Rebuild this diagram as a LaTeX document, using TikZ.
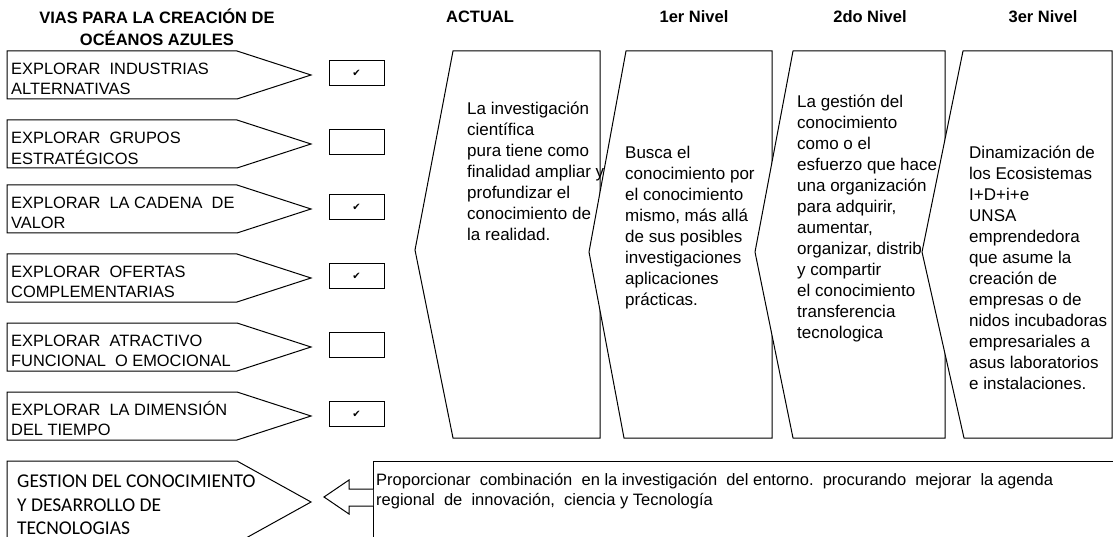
\documentclass[tikz,border=0pt]{standalone}
\usepackage{fontspec}
\setmainfont{Liberation Sans}
\newfontfamily\calibrifont{Carlito}
\newfontfamily\dejavufont{DejaVu Sans}

\tikzstyle{outline} = [draw, fill=white, line width=1pt, line join=miter]
\tikzstyle{header} = [anchor=base, inner sep=0pt, font=\bfseries\fontsize{16.5}{20}\selectfont]
\tikzstyle{via} = [anchor=north west, inner sep=0pt, align=left, font=\fontsize{16.4}{20}\selectfont]
\tikzstyle{nivel} = [anchor=north west, inner sep=0pt, align=left, font=\fontsize{17}{21}\selectfont]
\tikzstyle{nota} = [anchor=north west, inner sep=0pt, align=left, font=\fontsize{16.5}{20}\selectfont]
\tikzstyle{gestion} = [anchor=north west, inner sep=0pt, align=left, font=\calibrifont\fontsize{19.5}{23.5}\selectfont]
\tikzstyle{chk} = [draw, line width=1pt, minimum width=55pt, minimum height=25pt, inner sep=0pt, font=\dejavufont\fontsize{10}{10}\selectfont]

\begin{document}
\begin{tikzpicture}[x=1pt, y=-1pt]
	\useasboundingbox (0,0) rectangle (1113,537);
	\clip (0,0) rectangle (1113,537);

	% titulos
	\node[header, anchor=north, align=center] (tvias) at (157,9) {\strut VIAS PARA LA CREACIÓN DE\\OCÉANOS AZULES};
	\node[header] (tactual) at (480,23) {ACTUAL};
	\node[header] (tnivel1) at (694,23) {1er Nivel};
	\node[header] (tnivel2) at (870,23) {2do Nivel};
	\node[header] (tnivel3) at (1043,23) {3er Nivel};

	% vias
	\draw[outline] (7,51) -- (237,51) -- (311,75) -- (237,99) -- (7,99) -- cycle;
	\node[via] (v1) at (11,60) {\strut EXPLORAR\ \ INDUSTRIAS\\ALTERNATIVAS};
	\node[chk] (c1) at (356.5,73) {✔};

	\draw[outline] (7,120) -- (237,120) -- (311,144) -- (237,168) -- (7,168) -- cycle;
	\node[via] (v2) at (11,129) {\strut EXPLORAR\ \ GRUPOS\\ESTRATÉGICOS};
	\node[chk] (c2) at (356.5,142) {};

	\draw[outline] (7,185) -- (237,185) -- (311,209) -- (237,233) -- (7,233) -- cycle;
	\node[via] (v3) at (11,194) {\strut EXPLORAR\ \ LA CADENA\ \ DE\\VALOR};
	\node[chk] (c3) at (356.5,207) {✔};

	\draw[outline] (7,254) -- (237,254) -- (311,278) -- (237,302) -- (7,302) -- cycle;
	\node[via] (v4) at (11,263) {\strut EXPLORAR\ \ OFERTAS\\COMPLEMENTARIAS};
	\node[chk] (c4) at (356.5,276) {✔};

	\draw[outline] (7,323) -- (237,323) -- (311,347) -- (237,371) -- (7,371) -- cycle;
	\node[via] (v5) at (11,332) {\strut EXPLORAR\ \ ATRACTIVO\\FUNCIONAL\ \ O EMOCIONAL};
	\node[chk] (c5) at (356.5,345) {};

	\draw[outline] (7,392) -- (237,392) -- (311,416) -- (237,440) -- (7,440) -- cycle;
	\node[via] (v6) at (11,401) {\strut EXPLORAR\ \ LA DIMENSIÓN\\DEL TIEMPO};
	\node[chk] (c6) at (356.5,414) {✔};

	% niveles
	\draw[outline] (453,51) -- (600,51) -- (600,438) -- (453,438) -- (415,250) -- cycle;
	\node[nivel] (actual) at (467,100) {\strut La investigación\\científica\\pura tiene como\\finalidad ampliar y\\profundizar el\\conocimiento de\\la realidad.};

	\draw[outline] (626,51) -- (772,51) -- (772,438) -- (624,438) -- (589,252) -- cycle;
	\node[nivel] (nivel1) at (625,144) {\strut Busca el\\conocimiento por\\el conocimiento\\mismo, más allá\\de sus posibles\\investigaciones\\aplicaciones\\prácticas.};

	\draw[outline] (793,51) -- (945,51) -- (945,438) -- (793,438) -- (755,252) -- cycle;
	\node[nivel] (nivel2) at (797,93) {\strut La gestión del\\conocimiento\\como o el\\esfuerzo que hace\\una organización\\para adquirir,\\aumentar,\\organizar, distrib\\y compartir\\el conocimiento\\transferencia\\tecnologica};

	\draw[outline] (963,51) -- (1112,51) -- (1112,438) -- (964,438) -- (922,252) -- cycle;
	\node[nivel] (nivel3) at (969,144) {\strut Dinamización de\\los Ecosistemas\\I+D+i+e\\UNSA\\emprendedora\\que asume la\\creación de\\empresas o de\\nidos incubadoras\\empresariales a\\asus laboratorios\\e instalaciones.};

	% gestion
	\draw[outline] (7,461) -- (237,461) -- (311,502) -- (237,543) -- (7,543) -- cycle;
	\node[gestion] (gestion) at (17,471) {\strut GESTION DEL CONOCIMIENTO\\Y DESARROLLO DE\\TECNOLOGIAS};

	\draw[line width=1pt] (373,560) -- (373,461) -- (1130,461);
	\node[nota] (propuesta) at (376,471) {\strut Proporcionar\ \ combinación\ \ en la investigación\ \ del entorno.\ \ procurando\ \ mejorar\ \ la agenda\\regional\ \ de\ \ innovación,\ \ ciencia y Tecnología};

	\draw[outline] (373,489) -- (349,489) -- (349,480) -- (324,497) -- (349,514) -- (349,506) -- (373,506);
\end{tikzpicture}
\end{document}
